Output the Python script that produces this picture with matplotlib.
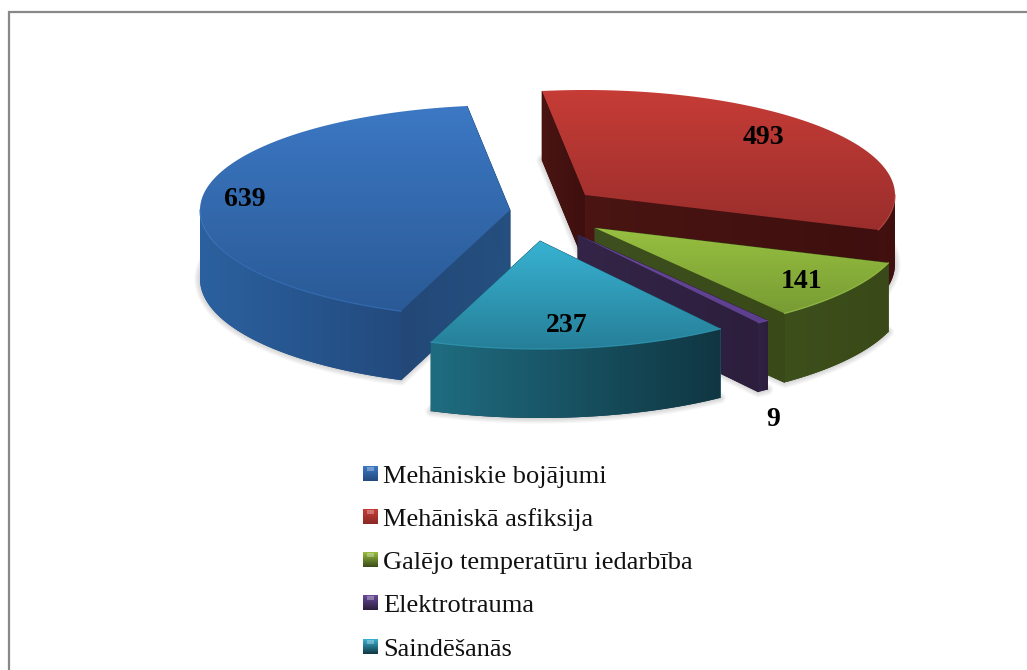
import numpy as np
import matplotlib
matplotlib.use('Agg')
import matplotlib.pyplot as plt
from matplotlib.colors import LinearSegmentedColormap
from matplotlib.patches import Polygon, Rectangle

labels = ['Mehāniskie bojājumi', 'Mehāniskā asfiksija', 'Galējo temperatūru iedarbība',
          'Elektrotrauma', 'Saindēšanās']
values = [639, 493, 141, 9, 237]

# layout of the exploded pie, in pixels
apex = {0: (510, 210), 1: (585, 195), 2: (595, 228), 3: (578, 235), 4: (540, 241)}
rx, ry_back, ry_front, depth = 310, 105, 108, 69
start_angle = -159.4
label_pos = [(245, 200), (763, 137), (802, 282), (773, 419), (567, 325)]

# top face, outer wall, cut wall, rim
top_cols = [('#3c78c4', '#2a5a96'), ('#c63c36', '#9a2e2c'), ('#98c040', '#789c34'),
            ('#6a4a9c', '#5c3f8c'), ('#38b2d2', '#267f98')]
wall_cols = [('#2b619f', '#234a7e'), ('#441110', '#3e0f0e'), ('#3d4f1b', '#394a18'),
             ('#302244', '#2c1e3c'), ('#1f6c80', '#103642')]
cut_cols = [('#234878', '#25507f'), ('#4a1513', '#3e0f0e'), ('#3f5020', '#394a18'),
            ('#342548', '#2c1e3c'), ('#1f6f84', '#1a5a6c')]
rim_cols = ['#3670b8', '#b8403a', '#9cc44a', '#6a4a9c', '#2f98b4']

fig = plt.figure(figsize=(10.27, 6.7), dpi=100)
ax = fig.add_axes([0, 0, 1, 1])
serif = 'Liberation Serif'


def shade(poly, c1, c2, z, vertical=True):
    # gradient fill clipped to a polygon
    poly = np.asarray(poly)
    cmap = LinearSegmentedColormap.from_list('g', [c1, c2])
    grad = np.linspace(0, 1, 128)
    grad = grad[:, None] if vertical else grad[None, :]
    x0, x1 = poly[:, 0].min(), poly[:, 0].max()
    y0, y1 = poly[:, 1].min(), poly[:, 1].max()
    im = ax.imshow(grad, cmap=cmap, extent=(x0, x1, y1, y0), aspect='auto', zorder=z)
    im.set_clip_path(Polygon(poly, transform=ax.transData))


def arc(i, a0, a1, n=120):
    t = np.radians(np.linspace(a0, a1, n))
    cx, cy = apex[i]
    c = np.cos(t)
    return np.column_stack([cx + rx * np.sin(t), cy - np.where(c < 0, ry_front, ry_back) * c])


edges = start_angle + np.concatenate([[0], np.cumsum(values)]) * 360 / sum(values)
down = np.array([0, depth])

# soft shadow under every slice
for i in range(len(values)):
    a = arc(i, edges[i], edges[i + 1])
    outline = np.vstack([[apex[i]], a]) + down
    for k in range(1, 5):
        ax.add_patch(Polygon(outline, fc='none', ec='k', lw=k * 2, alpha=0.04, zorder=1,
                             joinstyle='round'))

# back to front
z = 2
for i in [1, 0, 2, 3, 4]:
    a0, a1 = edges[i], edges[i + 1]
    a = arc(i, a0, a1)
    c = np.array(apex[i], dtype=float)
    # backing so no white shows between the walls
    ax.add_patch(Polygon(np.vstack([c + down, a + down]), fc=wall_cols[i][1], ec='none', zorder=z))
    z += 1
    # cut walls
    for p in (a[0], a[-1]):
        wall = [c, p, p + down, c + down]
        ax.add_patch(Polygon(wall, fc=cut_cols[i][1], ec=cut_cols[i][1], lw=0.6, zorder=z))
        shade(wall, cut_cols[i][0], cut_cols[i][1], z, vertical=False)
        z += 1
    # outer wall, only the front part of the rim shows
    lo, hi = max(a0, 90), min(a1, 270)
    if a0 < -90:
        lo, hi = a0, min(a1, -90)
    if hi > lo:
        w = arc(i, lo, hi)
        shade(np.vstack([w, w[::-1] + down]), wall_cols[i][0], wall_cols[i][1], z, vertical=False)
        z += 1
        ax.plot(w[:, 0], w[:, 1], color=rim_cols[i], lw=0.9, alpha=0.8, zorder=z + 1)
    # top face
    shade(np.vstack([[c], a]), top_cols[i][0], top_cols[i][1], z)
    z += 2

for v, (x, y) in zip(values, label_pos):
    ax.text(x, y, str(v), family=serif, weight='bold', fontsize=20, color='k',
            ha='center', va='center', zorder=100)

# legend
for i, (txt, y) in enumerate(zip(labels, [475, 518, 561, 604, 648])):
    box = np.array([[363, y - 9], [378, y - 9], [378, y + 6], [363, y + 6]])
    shade(box, top_cols[i][0], wall_cols[i][1] if i != 1 else '#8a2826', 100)
    ax.add_patch(Rectangle((367, y - 8), 7, 4, fc='w', ec='none', alpha=0.3, zorder=101))
    ax.text(383, y + 1.5, txt, family=serif, fontsize=19, color='#111111', ha='left', va='center',
            zorder=100)

# chart frame, runs off the image to the right and bottom
ax.plot([1030, 8.5, 8.5], [11.5, 11.5, 673], color='#888888', lw=1.6, zorder=102,
        solid_joinstyle='miter')

ax.set_xlim(0, 1027)
ax.set_ylim(670, 0)
ax.axis('off')
fig.savefig('out.png', dpi=100)
